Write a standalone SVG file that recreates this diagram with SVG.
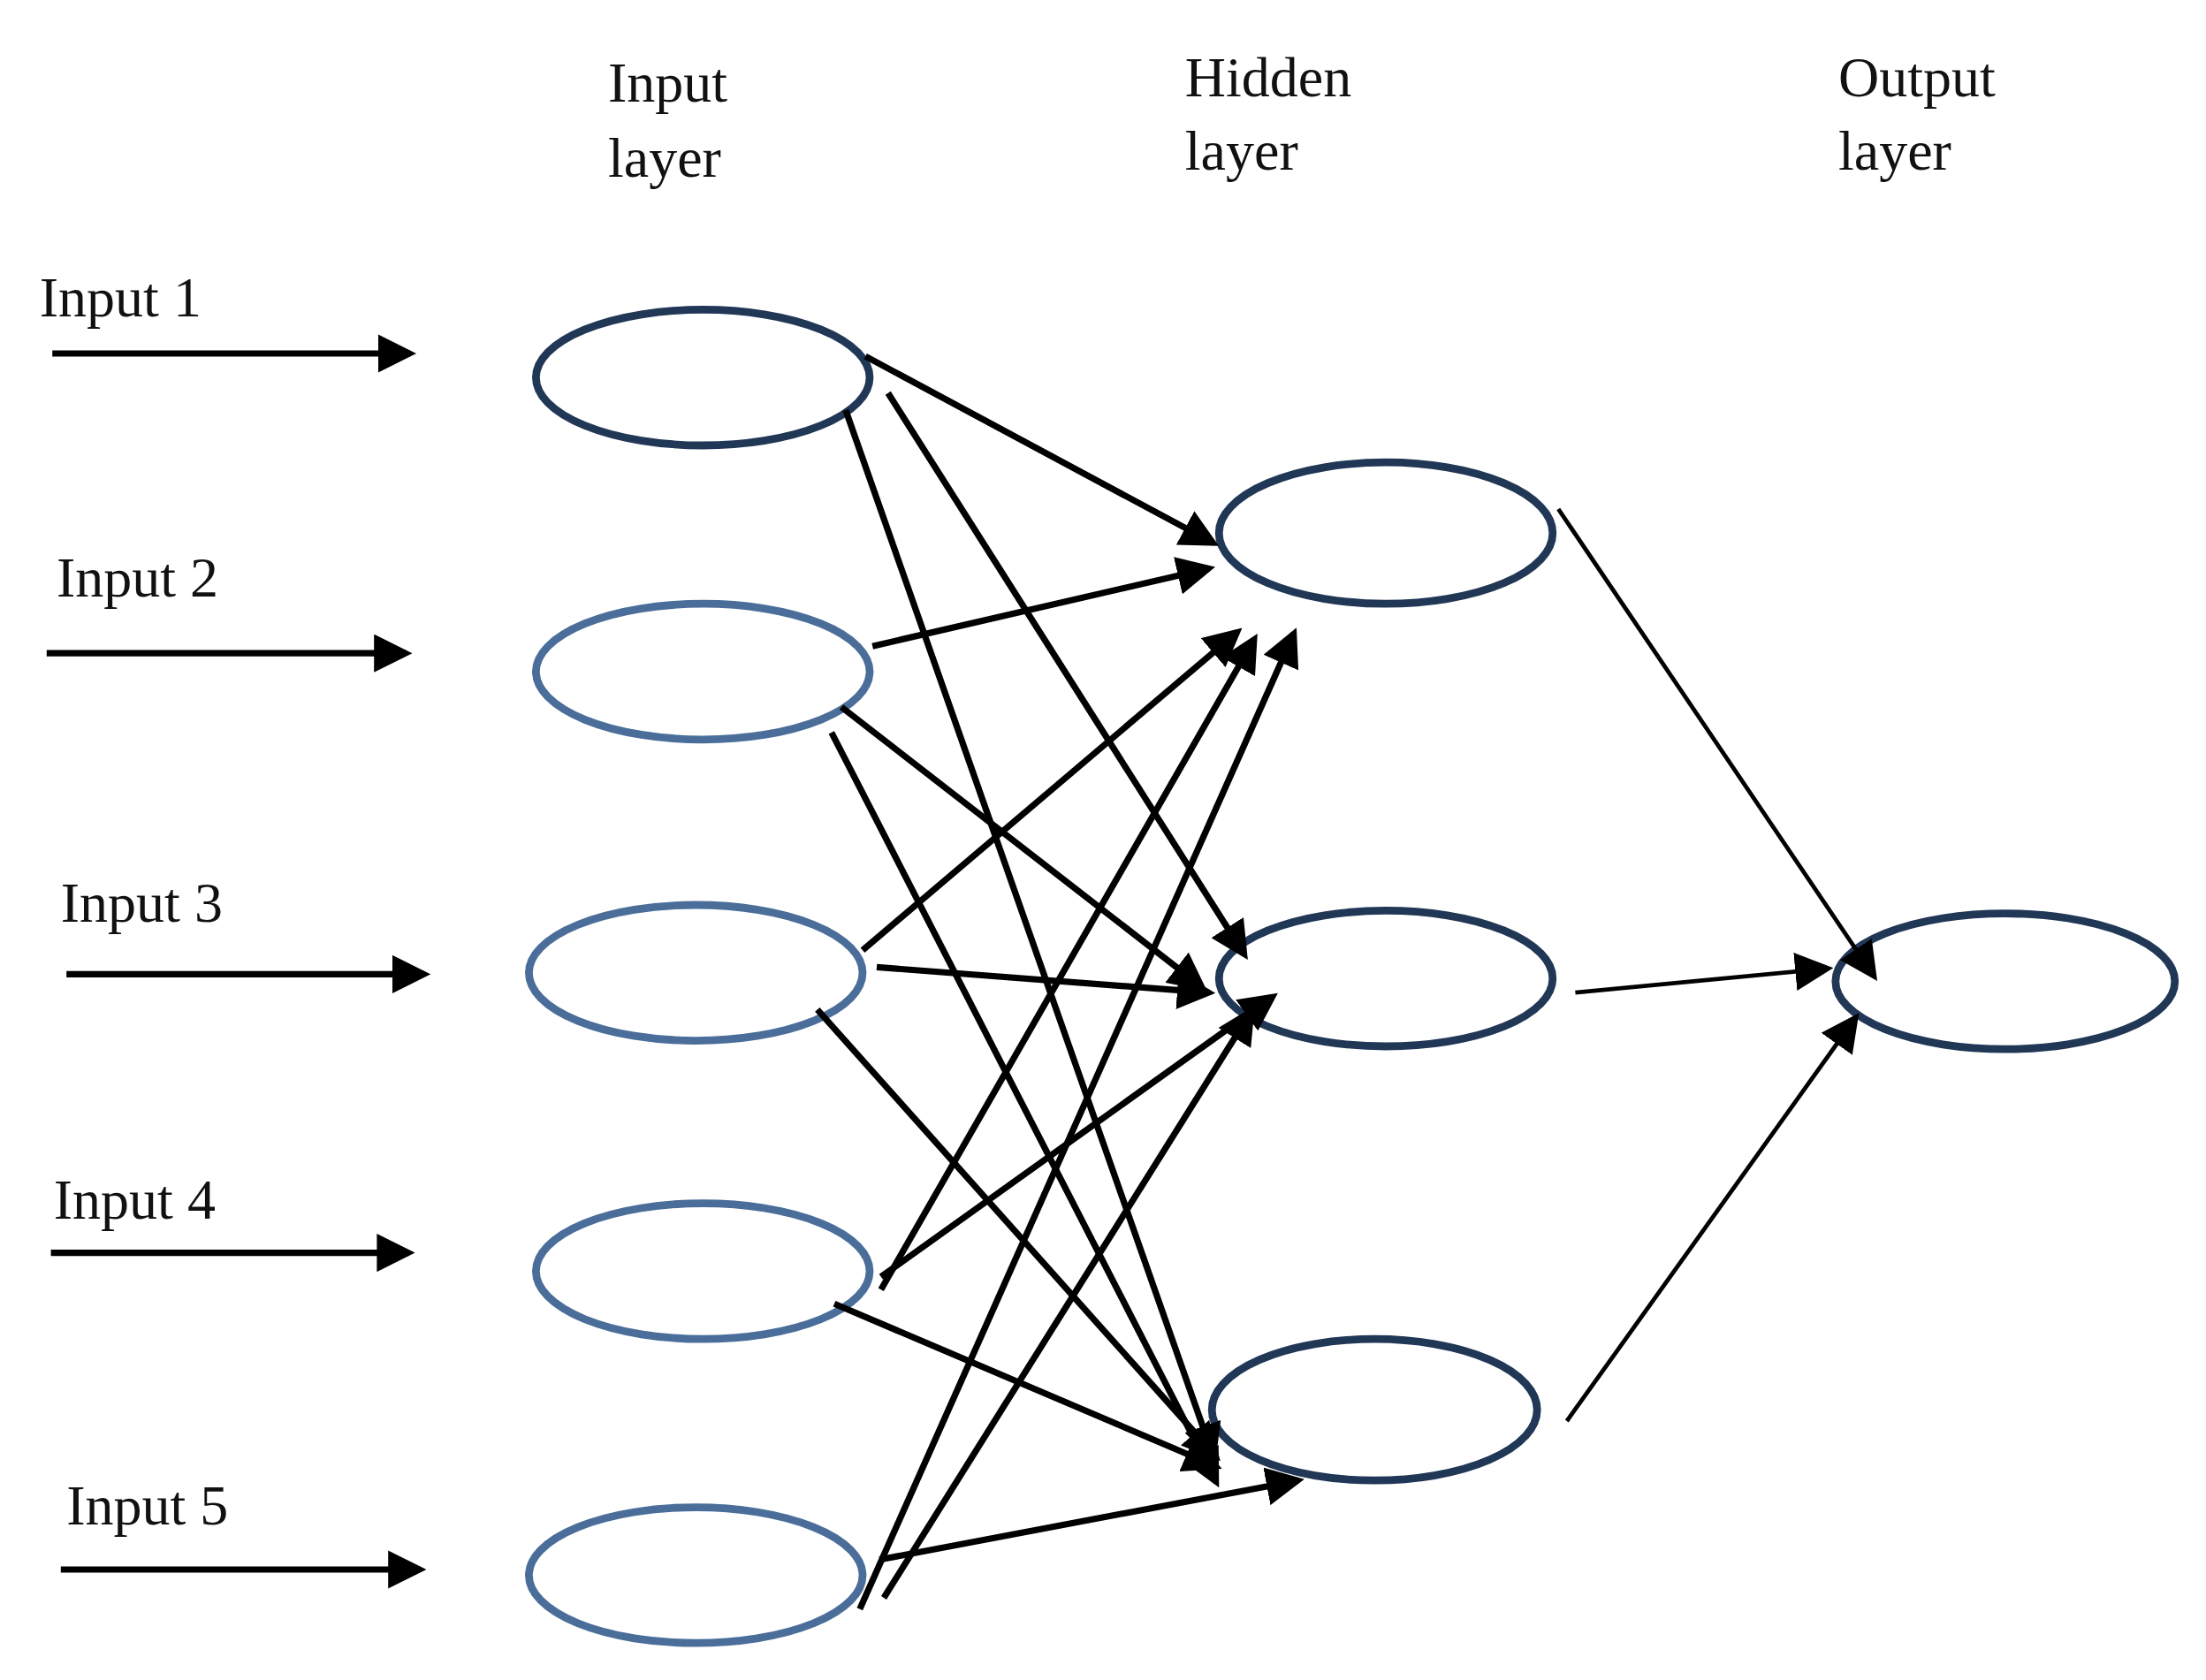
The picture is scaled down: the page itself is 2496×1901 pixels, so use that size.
<svg xmlns="http://www.w3.org/2000/svg" width="2496" height="1901" viewBox="0 0 2496 1901">
<defs>
<marker id="ah" markerWidth="6" markerHeight="6" refX="5" refY="3" orient="auto" markerUnits="strokeWidth"><path d="M0,0 L6,3 L0,6 z" fill="#000"/></marker>
<marker id="ah2" markerWidth="9" markerHeight="9" refX="7.5" refY="4.5" orient="auto" markerUnits="strokeWidth"><path d="M0,0 L9,4.5 L0,9 z" fill="#000"/></marker>
</defs>
<style>
text{font-family:"Liberation Serif",serif;font-size:40px;fill:#111}
.dk{fill:none;stroke:#213756;stroke-width:5.5}
.lt{fill:none;stroke:#4a6e99;stroke-width:5.5}
.c line{stroke:#000;stroke-width:4.5;marker-end:url(#ah)}
.c line.t{stroke-width:3;marker-end:url(#ah2)}
</style>
<rect width="2496" height="1901" fill="#fff"/>
<g transform="scale(1.6)">
<g id="titles">
<text x="430" y="72">Input</text><text x="430" y="125">layer</text>
<text x="838" y="68">Hidden</text><text x="838" y="120">layer</text>
<text x="1300" y="68">Output</text><text x="1300" y="120">layer</text>
</g>
<g id="labels">
<text x="28" y="224">Input 1</text>
<text x="40" y="422">Input 2</text>
<text x="43" y="652">Input 3</text>
<text x="38" y="862">Input 4</text>
<text x="47" y="1078">Input 5</text>
</g>
<g id="in1"><ellipse class="dk" cx="497" cy="267" rx="118" ry="48"/></g>
<g id="in2"><ellipse class="lt" cx="497" cy="475" rx="118" ry="48"/></g>
<g id="in3"><ellipse class="lt" cx="492" cy="688" rx="118" ry="48"/></g>
<g id="in4"><ellipse class="lt" cx="497" cy="899" rx="118" ry="48"/></g>
<g id="in5"><ellipse class="lt" cx="492" cy="1114" rx="118" ry="48"/></g>
<g id="h1"><ellipse class="dk" cx="980" cy="377" rx="118" ry="50"/></g>
<g id="h2"><ellipse class="dk" cx="980" cy="692" rx="118" ry="48"/></g>
<g id="h3"><ellipse class="dk" cx="972" cy="997" rx="115" ry="50"/></g>
<g id="out"><ellipse class="dk" cx="1418" cy="694" rx="120" ry="48"/></g>
<g id="connectors" class="c">
<line x1="37" y1="250" x2="290" y2="250"/>
<line x1="33" y1="462" x2="287" y2="462"/>
<line x1="47" y1="689" x2="300" y2="689"/>
<line x1="36" y1="886" x2="289" y2="886"/>
<line x1="43" y1="1110" x2="297" y2="1110"/>
<line x1="612" y1="252" x2="858" y2="384"/>
<line x1="628" y1="278" x2="880" y2="675"/>
<line x1="598" y1="290" x2="858" y2="1030"/>
<line x1="617" y1="457" x2="855" y2="402"/>
<line x1="595" y1="500" x2="850" y2="698"/>
<line x1="588" y1="518" x2="860" y2="1048"/>
<line x1="610" y1="672" x2="875" y2="447"/>
<line x1="620" y1="684" x2="855" y2="702"/>
<line x1="578" y1="714" x2="860" y2="1030"/>
<line x1="623" y1="912" x2="887" y2="452"/>
<line x1="623" y1="903" x2="900" y2="705"/>
<line x1="590" y1="922" x2="860" y2="1037"/>
<line x1="608" y1="1138" x2="915" y2="448"/>
<line x1="625" y1="1130" x2="885" y2="715"/>
<line x1="622" y1="1103" x2="918" y2="1047"/>
<line class="t" x1="1102" y1="360" x2="1325" y2="690"/>
<line class="t" x1="1114" y1="702" x2="1292" y2="685"/>
<line class="t" x1="1108" y1="1005" x2="1312" y2="720"/>
</g>
</g>
</svg>
